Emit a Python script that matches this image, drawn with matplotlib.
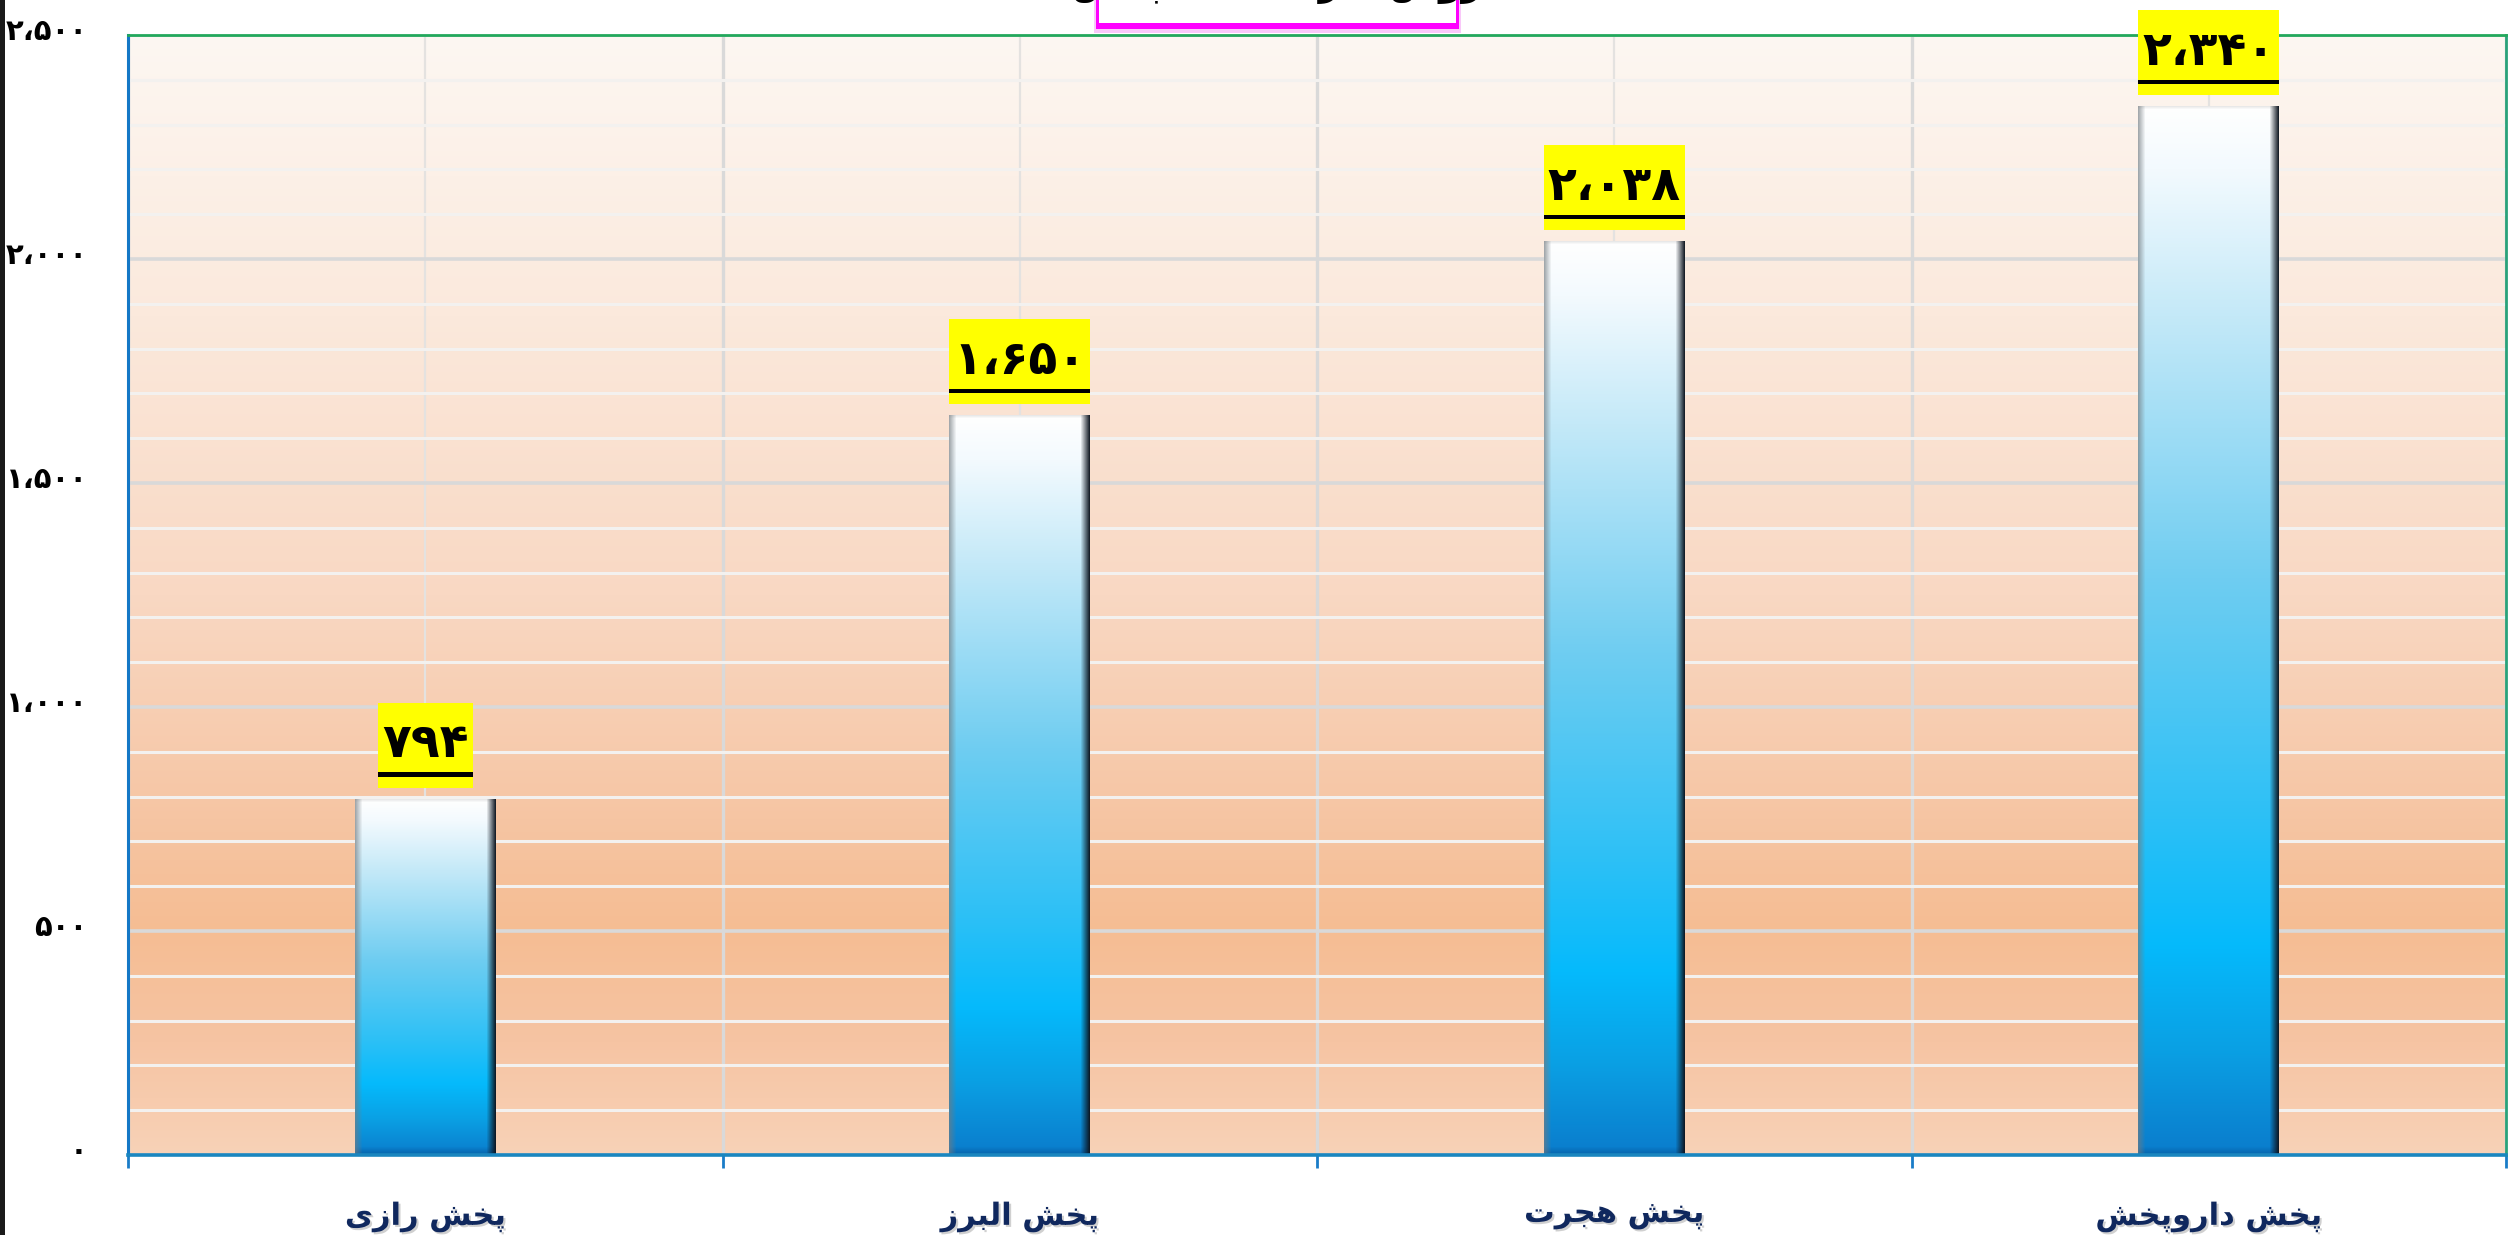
import numpy as np
import matplotlib
matplotlib.use("Agg")
import matplotlib.pyplot as plt
from matplotlib.colors import to_rgb
from matplotlib.patches import Rectangle
from matplotlib import transforms
import matplotlib.patheffects as pe

# ---------------- data ----------------
categories = ["پخش رازی", "پخش البرز", "پخش هجرت", "پخش داروپخش"]
values = [794, 1650, 2038, 2340]
value_labels = ["۷۹۴", "۱،۶۵۰", "۲،۰۳۸", "۲،۳۴۰"]
ytick_values = [0, 500, 1000, 1500, 2000, 2500]
ytick_labels = ["۰", "۵۰۰", "۱،۰۰۰", "۱،۵۰۰", "۲،۰۰۰", "۲،۵۰۰"]
title_text = "فروش شرکت های پخش"

# ---------------- simple Persian shaping (presentation forms + RTL) ----------------
FORMS = {
    'ا': ('\uFE8D', '\uFE8E', None, None),
    'ب': ('\uFE8F', '\uFE90', '\uFE91', '\uFE92'),
    'پ': ('\uFB56', '\uFB57', '\uFB58', '\uFB59'),
    'ت': ('\uFE95', '\uFE96', '\uFE97', '\uFE98'),
    'ج': ('\uFE9D', '\uFE9E', '\uFE9F', '\uFEA0'),
    'خ': ('\uFEA5', '\uFEA6', '\uFEA7', '\uFEA8'),
    'د': ('\uFEA9', '\uFEAA', None, None),
    'ر': ('\uFEAD', '\uFEAE', None, None),
    'ز': ('\uFEAF', '\uFEB0', None, None),
    'ش': ('\uFEB5', '\uFEB6', '\uFEB7', '\uFEB8'),
    'ف': ('\uFED1', '\uFED2', '\uFED3', '\uFED4'),
    'ک': ('\uFB8E', '\uFB8F', '\uFB90', '\uFB91'),
    'ل': ('\uFEDD', '\uFEDE', '\uFEDF', '\uFEE0'),
    'ه': ('\uFEE9', '\uFEEA', '\uFEEB', '\uFEEC'),
    'و': ('\uFEED', '\uFEEE', None, None),
    'ی': ('\uFBFC', '\uFBFD', '\uFBFE', '\uFBFF'),
}


def shape(text):
    chars = list(text)
    out = []
    for i, c in enumerate(chars):
        if c not in FORMS:
            out.append(c)
            continue
        prev = chars[i - 1] if i > 0 else None
        nxt = chars[i + 1] if i + 1 < len(chars) else None
        join_prev = prev in FORMS and FORMS[prev][2] is not None
        join_next = nxt in FORMS and FORMS[c][2] is not None
        iso, fin, ini, med = FORMS[c]
        if join_prev and join_next:
            out.append(med)
        elif join_prev:
            out.append(fin)
        elif join_next:
            out.append(ini)
        else:
            out.append(iso)
    return ''.join(reversed(out))


plt.rcParams['font.family'] = ['DejaVu Sans']
plt.rcParams['font.weight'] = 'bold'

W, H, DPI = 2509, 1235, 100
fig = plt.figure(figsize=(W / DPI, H / DPI), dpi=DPI)
fig.patch.set_facecolor('white')

ax_l, ax_r, ax_t, ax_b = 128, 2506, 35, 1155
ax = fig.add_axes([ax_l / W, (H - ax_b) / H, (ax_r - ax_l) / W, (ax_b - ax_t) / H])

x = np.arange(len(categories))
ax.set_xlim(-0.5, len(categories) - 0.5)
ax.set_ylim(0, 2500)

# background gradient
bg_stops_t = [0.0, 0.25, 0.50, 0.70, 0.80, 0.90, 1.0]
bg_stops_c = ['#fdf7f2', '#fbe9dc', '#f9d8c3', '#f6c5a3', '#f5bd93', '#f6c4a3', '#f8d2b7']
tt = np.linspace(0, 1, 400)
bg_cols = np.array([to_rgb(c) for c in bg_stops_c])
bg = np.stack([np.interp(tt, bg_stops_t, bg_cols[:, k]) for k in range(3)], axis=-1)
bg = np.repeat(bg[:, None, :], 2, axis=1)
ax.imshow(bg, extent=[0, 1, 0, 1], transform=ax.transAxes, aspect='auto', zorder=0,
          interpolation='bilinear')
ax.set_facecolor('none')

# grid
ax.set_axisbelow(True)
ax.set_yticks(ytick_values)
ax.set_yticks(np.arange(0, 2501, 100), minor=True)
ax.set_yticklabels(ytick_labels)
ax.yaxis.grid(True, which='minor', color='#f3f1ef', lw=2.2, zorder=0.5)
ax.yaxis.grid(True, which='major', color='#d9d9d9', lw=2.6, zorder=0.6)
ax.set_xticks(np.arange(-0.5, len(categories), 1.0))
ax.set_xticks(x, minor=True)
ax.set_xticklabels([''] * (len(categories) + 1))
ax.set_xticklabels([shape(c) for c in categories], minor=True)
ax.xaxis.grid(True, which='major', color='#d9d9d9', lw=2.4)
ax.xaxis.grid(True, which='minor', color='#e4e2e0', lw=1.6)

ax.tick_params(axis='y', which='both', length=0, pad=29, labelsize=21, labelcolor='black')
ax.tick_params(axis='x', which='major', length=9, width=2, color='#1a7cc8', direction='out')
ax.tick_params(axis='x', which='minor', length=0, pad=33, labelsize=22, labelcolor='#10285e')
for lab in ax.get_yticklabels():
    lab.set_fontweight('bold')
    lab.set_transform(lab.get_transform() + transforms.ScaledTranslation(0, 6 / DPI, fig.dpi_scale_trans))
for lab in ax.get_xticklabels(minor=True):
    lab.set_fontweight('bold')
    lab.set_path_effects([pe.withSimplePatchShadow(offset=(1.5, -1.5), shadow_rgbFace='#7a7a7a', alpha=0.35)])

for side, col, lw in [('top', '#22a85c', 2.0), ('left', '#1478c6', 2.2),
                      ('bottom', '#1a86bf', 2.6), ('right', '#2aa27a', 2.0)]:
    ax.spines[side].set_color(col)
    ax.spines[side].set_linewidth(lw)

# bars
bars = ax.bar(x, values, width=0.237, color='none', edgecolor='none', zorder=2)

v_t = [0.0, 0.06, 0.20, 0.45, 0.68, 0.80, 0.90, 1.0]
v_c = ['#ffffff', '#f3fafe', '#c4e9f8', '#6fcdf1', '#2cc0f6', '#05bafc', '#0aa0e4', '#0a7ccc']
v_cols = np.array([to_rgb(c) for c in v_c])

fig.canvas.draw()
for b in bars:
    x0, w, h = b.get_x(), b.get_width(), b.get_height()
    p0 = ax.transData.transform((x0, 0))
    p1 = ax.transData.transform((x0 + w, h))
    npx = max(int(round(p1[0] - p0[0])), 10)
    npy = max(int(round(p1[1] - p0[1])), 10)
    t = np.linspace(0, 1, npy)
    col = np.stack([np.interp(t, v_t, v_cols[:, k]) for k in range(3)], axis=-1)
    img = np.repeat(col[:, None, :], npx, axis=1)
    nb = 8
    for r in range(nb):
        a = 0.55 * (r + 1) / nb
        img[npy - nb + r] = img[npy - nb + r] * (1 - a) + np.array(to_rgb('#05508f')) * a
    for r in range(3):
        a = 0.35 * (3 - r) / 3
        img[r] = img[r] * (1 - a) + np.array([0.75, 0.75, 0.75]) * a
    nl = 7
    for c_ in range(nl):
        a = 0.65 * (nl - c_) / nl
        img[:, c_] = img[:, c_] * (1 - a) + np.array([0.45, 0.48, 0.5]) * a
    nr = 9
    for c_ in range(nr):
        a = 0.95 * (c_ + 1) / nr
        img[:, npx - nr + c_] = img[:, npx - nr + c_] * (1 - a) + np.array([0.05, 0.08, 0.12]) * a
    ax.imshow(img, extent=[x0, x0 + w, 0, h], aspect='auto', zorder=2,
              interpolation='bilinear')

ax.set_xlim(-0.5, len(categories) - 0.5)
ax.set_ylim(0, 2500)
ax.set_aspect('auto')

# value labels: yellow box, bold digits, underline
fig.canvas.draw()
for xi, v, lab in zip(x, values, value_labels):
    tr = transforms.offset_copy(ax.transData, fig=fig, x=0, y=42 * 72 / DPI, units='points')
    txt = ax.text(xi, v, lab, transform=tr, ha='center', va='baseline', fontsize=34,
                  fontweight='bold', color='black', zorder=6, clip_on=False)
    fig.canvas.draw()
    bb = txt.get_window_extent()
    top_px = ax.transData.transform((xi, v))[1]
    inv = ax.transAxes.inverted()
    bx0, bx1 = bb.x0 - 4, bb.x1 + 4
    by0, by1 = top_px + 11.5, top_px + 96.5
    (ax0, ay0) = inv.transform((bx0, by0))
    (ax1, ay1) = inv.transform((bx1, by1))
    ax.add_artist(Rectangle((ax0, ay0), ax1 - ax0, ay1 - ay0, transform=ax.transAxes,
                            facecolor='#ffff00', edgecolor='none', zorder=5, clip_on=False))
    (ux0, uy0) = inv.transform((bx0, top_px + 22.5))
    (ux1, uy1) = inv.transform((bx1, top_px + 27.0))
    ax.add_artist(Rectangle((ux0, uy0), ux1 - ux0, uy1 - uy0, transform=ax.transAxes,
                            facecolor='black', edgecolor='none', zorder=6, clip_on=False))

# title box (mostly cut off at top)
tx0, tx1 = 1096 / W, 1459 / W
fig.add_artist(Rectangle((tx0 - 2 / W, (H - 33) / H), tx1 - tx0 + 4 / W, 33 / H,
                         transform=fig.transFigure, facecolor='#f9c8f9', edgecolor='none', zorder=10))
fig.add_artist(Rectangle((tx0, (H - 29) / H), tx1 - tx0, 29 / H,
                         transform=fig.transFigure, facecolor='#ff00ff', edgecolor='none', zorder=11))
fig.add_artist(Rectangle((tx0 + 3 / W, (H - 23) / H), tx1 - tx0 - 6 / W, 23 / H,
                         transform=fig.transFigure, facecolor='white', edgecolor='none', zorder=12))
fig.text((tx0 + tx1) / 2 + 0.005, (H + 5) / H, shape(title_text), ha='center', va='baseline',
         fontsize=26, fontweight='bold', color='black', zorder=13)

# dark strip at left edge
fig.add_artist(Rectangle((0, 0), 5 / W, 1, transform=fig.transFigure,
                         facecolor='#1a1a1a', edgecolor='none', zorder=10))

fig.savefig('out.png', dpi=DPI)
